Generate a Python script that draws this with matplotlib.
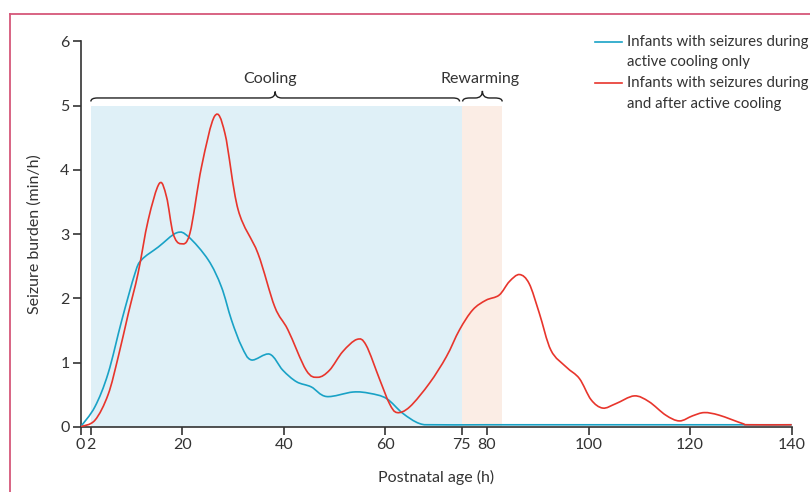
import matplotlib
matplotlib.use("Agg")
import matplotlib.pyplot as plt
from matplotlib.path import Path
from matplotlib.patches import PathPatch
from matplotlib.lines import Line2D

# Data

hours_cool = [0, 2.8, 5.4, 8.1, 10.7, 12, 15.3, 18.9, 21.2, 25.1, 27.7, 29.7,
              31.7, 33.6, 37.2, 39.8, 42.5, 45.4, 48.4, 53.6, 56.9, 60.2,
              63.4, 66.7, 70, 80, 100, 120, 140]
burden_cool = [0, 0.31, 0.83, 1.66, 2.39, 2.6, 2.8, 3.02, 2.96, 2.6, 2.18,
               1.66, 1.25, 1.04, 1.13, 0.88, 0.70, 0.62, 0.47, 0.54, 0.52,
               0.44, 0.21, 0.05, 0.03, 0.03, 0.03, 0.03, 0.03]

hours_after = [0, 2.8, 5.4, 7.4, 9.4, 11.3, 13.3, 15.5, 16.9, 18.2, 19.7,
               21.5, 23.8, 26.4, 28.4, 31, 34.9, 38.2, 40.8, 44.4, 46.7, 49,
               51.6, 54.4, 56.2, 58.9, 60.8, 62.3, 64.8, 68.7, 72, 74.6, 77.2,
               79.8, 82.4, 84.4, 86.4, 88.3, 90.3, 92.6, 95.6, 98.2, 100.5,
               102.8, 105.4, 109, 111.9, 115.2, 117.9, 120.5, 122.8, 125.7,
               130.3, 131.6, 140]
burden_after = [0, 0.1, 0.5, 1.09, 1.77, 2.39, 3.22, 3.79, 3.58, 3.01, 2.85,
                3.01, 4.05, 4.84, 4.57, 3.38, 2.70, 1.87, 1.51, 0.88, 0.77,
                0.88, 1.17, 1.36, 1.27, 0.73, 0.36, 0.22, 0.31, 0.68, 1.09,
                1.51, 1.82, 1.97, 2.05, 2.26, 2.37, 2.23, 1.77, 1.19, 0.93,
                0.75, 0.42, 0.29, 0.36, 0.48, 0.39, 0.18, 0.09, 0.17, 0.22,
                0.18, 0.05, 0.03, 0.03]

xticks = [0, 2, 20, 40, 60, 75, 80, 100, 120, 140]
yticks = [0, 1, 2, 3, 4, 5, 6]

cooling = (2, 75)
rewarming = (75, 83)

BLUE = '#19a2c6'
RED = '#e8352c'
TXT = '#333333'

plt.rcParams['font.family'] = ['Lato', 'DejaVu Sans']


def px(x, y):
    # pixel position -> figure fraction
    return x / 810, 1 - y / 492


def smooth_path(xs, ys):
    # curve through the points (catmull-rom as bezier segments)
    pts = list(zip(xs, ys))
    verts = [pts[0]]
    codes = [Path.MOVETO]
    n = len(pts)
    for i in range(n - 1):
        p0 = pts[max(i - 1, 0)]
        p1 = pts[i]
        p2 = pts[i + 1]
        p3 = pts[min(i + 2, n - 1)]
        c1 = (p1[0] + (p2[0] - p0[0]) / 6, p1[1] + (p2[1] - p0[1]) / 6)
        c2 = (p2[0] - (p3[0] - p1[0]) / 6, p2[1] - (p3[1] - p1[1]) / 6)
        verts += [c1, c2, p2]
        codes += [Path.CURVE4] * 3
    return Path(verts, codes)


def brace(ax, x0, x1, y, r, d=0.055, t=0.11):
    xm = (x0 + x1) / 2
    verts = [(x0, y - d), (x0, y), (x0 + r, y),
             (xm - r, y),
             (xm, y), (xm, y + t),
             (xm, y), (xm + r, y),
             (x1 - r, y),
             (x1, y), (x1, y - d)]
    codes = [Path.MOVETO, Path.CURVE3, Path.CURVE3,
             Path.LINETO,
             Path.CURVE3, Path.CURVE3,
             Path.CURVE3, Path.CURVE3,
             Path.LINETO,
             Path.CURVE3, Path.CURVE3]
    ax.add_patch(PathPatch(Path(verts, codes), fill=False, lw=1.0,
                           edgecolor='#222222', clip_on=False))


fig = plt.figure(figsize=(8.1, 4.92), dpi=100)
ax = fig.add_axes([0.0996, 0.1327, 0.8778, 0.783])

ax.axvspan(*cooling, ymax=5 / 6, color='#dff0f7', lw=0, zorder=0)
ax.axvspan(*rewarming, ymax=5 / 6, color='#fbede5', lw=0, zorder=0)

ax.add_patch(PathPatch(smooth_path(hours_cool, burden_cool), fill=False,
                       edgecolor=BLUE, lw=1.2, zorder=3))
ax.add_patch(PathPatch(smooth_path(hours_after, burden_after), fill=False,
                       edgecolor=RED, lw=1.2, zorder=4))

brace(ax, 2, 74.6, 5.12, 1.3, t=0.1)
brace(ax, 75.2, 83, 5.12, 1.4)
ax.text(37.3, 5.41, 'Cooling', ha='center', va='center', fontsize=11.5,
        color=TXT)
ax.text(78.6, 5.41, 'Rewarming', ha='center', va='center', fontsize=11.5,
        color=TXT)

ax.set_xlim(0, 140)
ax.set_ylim(0, 6)
ax.set_xticks(xticks)
ax.set_yticks(yticks)
ax.spines['top'].set_visible(False)
ax.spines['right'].set_visible(False)
for s in ['left', 'bottom']:
    ax.spines[s].set_color('#333333')
    ax.spines[s].set_linewidth(1.2)
ax.tick_params(length=5.5, width=1.2, color='#333333', labelcolor=TXT,
               labelsize=11.5, pad=2.5)

ax.set_xlabel('Postnatal age (h)', fontsize=11.5, color=TXT)
ax.set_ylabel('Seizure burden (min/h)', fontsize=11.5, color=TXT)
ax.xaxis.label.set_va('center')
ax.yaxis.label.set_va('center')
ax.xaxis.set_label_coords(0.5, -0.1306)
ax.yaxis.set_label_coords(-0.0643, 0.5)

# legend
for col, y, lines in [(BLUE, 41.7, ['Infants with seizures during',
                                     'active cooling only']),
                      (RED, 83.3, ['Infants with seizures during',
                                   'and after active cooling'])]:
    fig.add_artist(Line2D([px(595, 0)[0], px(622, 0)[0]],
                          [px(0, y)[1]] * 2, color=col, lw=1.2))
    for i, s in enumerate(lines):
        fig.text(*px(627, y + i * 20.5), s, ha='left', va='center',
                 fontsize=10.8, color=TXT)

# pink frame
fig.add_artist(Line2D([px(10, 0)[0], 1], [px(0, 14)[1]] * 2,
                      color='#d6577a', lw=1.3))
fig.add_artist(Line2D([px(10, 0)[0]] * 2, [0, px(0, 14)[1]],
                      color='#d6577a', lw=1.3))

fig.savefig('out.png', dpi=100)
